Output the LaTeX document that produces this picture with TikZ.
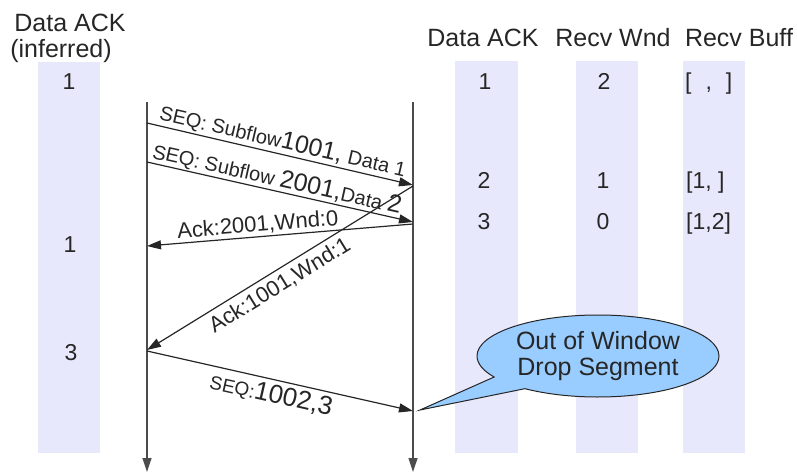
\documentclass[tikz,border=0pt]{standalone}
\usepackage{fontspec}
\setmainfont{Liberation Sans}
\usetikzlibrary{arrows.meta,shapes.callouts,shapes.geometric}
\newcommand{\fsz}[1]{\fontsize{#1}{#1}\selectfont}
\definecolor{stripecol}{HTML}{E8E8FC}
\definecolor{callfill}{HTML}{99CCFF}
\begin{document}
\begin{tikzpicture}[x=1pt,y=-1pt,
  stripebox/.style={fill=stripecol, draw=none},
  hdr/.style={inner sep=0pt, anchor=base, font=\fsz{25}, text=black!85},
  txt/.style={inner sep=0pt, anchor=base, font=\fsz{23}, text=black!85},
  txtl/.style={inner sep=0pt, anchor=base west, font=\fsz{23}, text=black!85},
  msg/.style={line width=1.2pt, draw=black!85, -{Triangle[length=14pt,width=9pt]}},
  life/.style={line width=1.2pt, draw=black!70, -{Triangle[length=14pt,width=9pt]}},
  lbl/.style={sloped, inner sep=1.5pt, text=black!85, font=\fsz{22}}]
\useasboundingbox (0,0) rectangle (797,476);
% stripes
\fill[stripebox] (38,62) rectangle (100,453);
\fill[stripebox] (455,61) rectangle (518,453);
\fill[stripebox] (576,61) rectangle (638,453);
\fill[stripebox] (683,61) rectangle (745,453);
% headers
\node[hdr] (h1) at (70,32) {Data ACK};
\node[hdr] (h2) at (61,58) {(inferred)};
\node[hdr] (h3) at (483,47) {Data ACK};
\node[hdr] (h4) at (613,47) {Recv Wnd};
\node[hdr] (h5) at (739,47) {Recv Buff};
% left column values
\node[txt] (l1) at (69,90) {1};
\node[txt] (l2) at (70,252) {1};
\node[txt] (l3) at (71,360) {3};
% right columns values
\node[txt] (a1) at (485,90) {1};
\node[txt] (w1) at (604,90) {2};
\node[txtl] (b1) at (685,90) {[\hspace{14pt},\hspace{14pt}]};
\node[txt] (a2) at (484,188) {2};
\node[txt] (w2) at (603,188) {1};
\node[txtl] (b2) at (686,188) {[1, ]};
\node[txt] (a3) at (484,229) {3};
\node[txt] (w3) at (603,229) {0};
\node[txtl] (b3) at (686,229) {[1,2]};
% lifelines
\coordinate (Ltop) at (147,102);
\coordinate (Lbot) at (147,472);
\coordinate (Rtop) at (413,102);
\coordinate (Rbot) at (413,472);
\draw[life] (Ltop) -- (Lbot);
\draw[life] (Rtop) -- (Rbot);
% message end points
\coordinate (s1) at (147,123);
\coordinate (e1) at (413,185);
\coordinate (s2) at (147,162);
\coordinate (e2) at (413,222);
\coordinate (s3) at (413,224);
\coordinate (e3) at (147,246);
\coordinate (s4) at (413,186);
\coordinate (e4) at (147,350);
\coordinate (s5) at (147,351);
\coordinate (e5) at (413,411);
\coordinate (tip) at (420,410);
% messages
\draw[msg] (s1) -- node[lbl, above, pos=0.5] {{\fsz{20}SEQ: Subflow}{\fsz{25}1001,} {\fsz{20}Data 1}} (e1);
\draw[msg] (s2) -- node[lbl, above, pos=0.48, inner sep=0.5pt] {{\fsz{20}SEQ: Subflow }{\fsz{25}2001,}{\fsz{20}Data }{\fsz{25}2}} (e2);
\draw[msg] (s3) -- node[lbl, above, pos=0.58] {Ack:2001,Wnd:0} (e3);
\draw[msg] (s4) -- node[lbl, below, pos=0.53, inner sep=5pt] {Ack:1001,Wnd:1} (e4);
\draw[msg] (s5) -- node[lbl, below, pos=0.48, inner sep=4pt] {{\fsz{19}SEQ:}{\fsz{26}1002,3}} (e5);
% callout
\node[ellipse callout, draw=black!85, fill=callfill, line width=1pt,
  minimum width=242pt, minimum height=82pt, inner sep=0pt,
  callout absolute pointer={(tip)}, callout pointer arc=22,
  align=center, text=black!85, font=\fontsize{25}{26}\selectfont] (call) at (598,356) {Out of Window\\Drop Segment};
\end{tikzpicture}
\end{document}
